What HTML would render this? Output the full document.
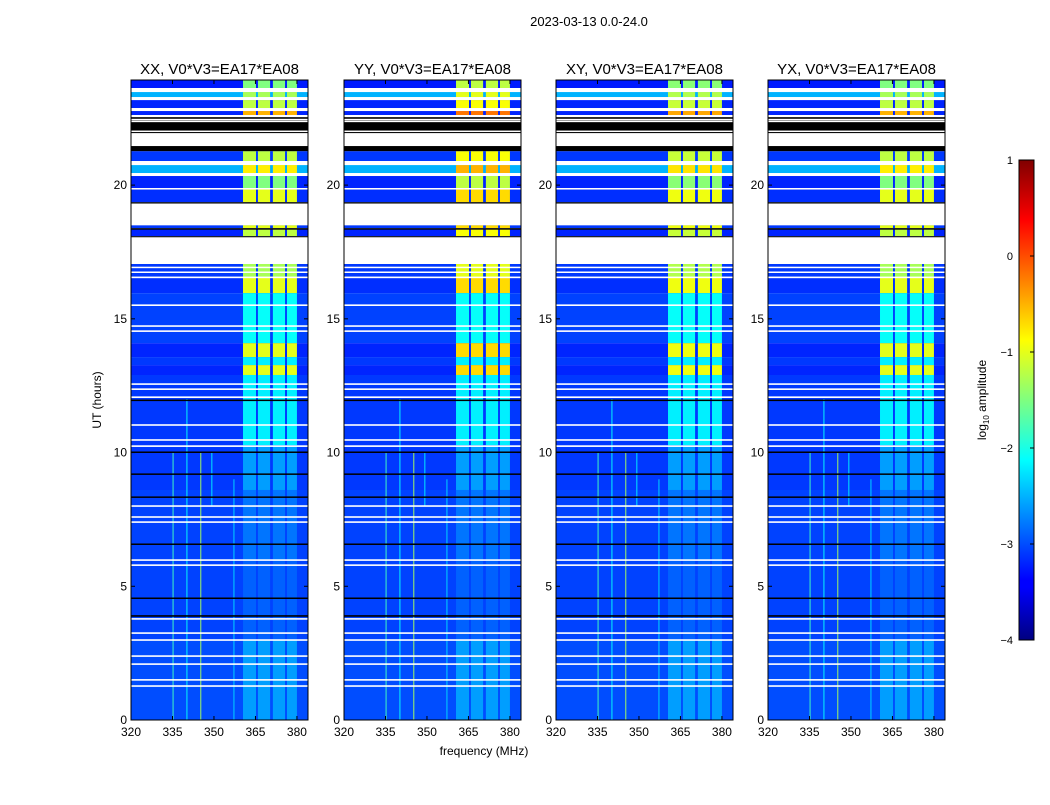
<!DOCTYPE html>
<html><head><meta charset="utf-8"><style>
body{margin:0;background:#fff;}
svg text{font-family:"Liberation Sans",sans-serif;}
</style></head><body>
<svg id="fig" width="1050" height="800" xmlns="http://www.w3.org/2000/svg">
<defs><linearGradient id="jetg" x1="0" y1="1" x2="0" y2="0">
<stop offset="0" stop-color="#000080"/><stop offset="0.11" stop-color="#0000ff"/><stop offset="0.125" stop-color="#0000ff"/><stop offset="0.375" stop-color="#00ffff"/><stop offset="0.625" stop-color="#ffff00"/><stop offset="0.875" stop-color="#ff0000"/><stop offset="1" stop-color="#800000"/></linearGradient></defs>
<text x="589" y="26" font-size="13" text-anchor="middle">2023-03-13 0.0-24.0</text>
<text x="484" y="755" font-size="12" text-anchor="middle">frequency (MHz)</text>
<text transform="translate(101,400) rotate(-90)" font-size="12" text-anchor="middle">UT (hours)</text>
<g id="panels"></g>
<g id="cbar"></g>
</svg>
<script>
const panelTitles=["XX, V0*V3=EA17*EA08","YY, V0*V3=EA17*EA08","XY, V0*V3=EA17*EA08","YX, V0*V3=EA17*EA08"];
const panelBandOffset=[0,0.3,0.05,0];
// data segments: [startHour,endHour,bgLog,bandLog]
const segStart=[23.63,23.29,22.88,22.62,20.90,20.45,19.89,19.36,18.39,18.09,16.56,15.96,14.09,13.57,13.27,12.90,10.28,8.6,5.98,2.99,0];
const segEnd  =[23.93,23.48,23.18,22.77,21.27,20.75,20.34,19.85,18.50,18.35,17.05,16.56,15.96,14.09,13.57,13.27,12.90,10.28,8.6,5.98,2.99];
const segBg   =[-3.25,-2.5,-3.2,-3.2,-3.1,-2.5,-3.2,-3.15,-3.1,-3.2,-3.1,-3.15,-3.05,-3.2,-3.1,-3.2,-3.1,-3.1,-3.05,-3.05,-3.0];
const segBand =[-1.5,-1.3,-1.2,-0.5,-1.2,-0.8,-1.5,-1.0,-1.0,-1.2,-1.3,-1.0,-2.1,-1.0,-2.2,-1.0,-2.2,-2.6,-2.8,-2.9,-2.6];
// band blocks in MHz
const bandLo=[360.5,365.9,371.3,376.4];
const bandHi=[365.2,370.3,375.7,380.0];
// flagged rows: start,end, type 0 white / 1 black
const flagStart=[23.48,23.18,22.77,22.54,21.94,22.45,22.38,22.0,21.46,21.27,20.75,20.34,19.85,19.31,18.50,18.35,18.05,17.05,16.90,16.72,16.52,15.48,14.70,14.51,12.53,12.34,12.04,11.93,11.00,10.44,10.21,9.99,9.17,8.31,7.97,7.56,7.37,6.55,5.95,5.76,4.53,3.86,3.75,3.22,2.96,2.36,2.06,1.47,1.24];
const flagEnd  =[23.63,23.29,22.88,22.62,22.54,22.48,22.41,22.04,21.94,21.46,20.90,20.45,19.89,19.36,19.31,18.39,18.09,18.05,16.95,16.77,16.58,15.54,14.76,14.57,12.59,12.40,12.10,11.98,11.06,10.50,10.27,10.04,9.22,8.36,8.03,7.62,7.43,6.60,6.01,5.82,4.58,3.92,3.81,3.28,3.02,2.42,2.12,1.53,1.30];
const flagType =[0,0,0,0,1,0,0,0,0,1,0,0,0,1,0,1,1,0,0,0,0,0,0,0,0,0,0,1,0,0,0,1,1,1,0,0,0,1,0,0,1,1,0,0,0,0,0,0,0];
// RFI vertical lines
const rfiFreq=[335,340,345,349,357];
const rfiStart=[0,0,0,8,0];
const rfiEnd=[10,12,10,10,9];
const rfiLevel=[-1.8,-2.1,-1.3,-2.2,-2.3];
const yTicks=[0,5,10,15,20];
const xTicks=[320,335,350,365,380];
const cbTicks=[1,0,-1,-2,-3,-4];

const NS="http://www.w3.org/2000/svg";
const panelX=[131,344,556,768], PW=177, PT=80, PB=720;
const F0=320,F1=384,H0=0,H1=23.93;
function jet(v){let t=(v+4)/5;t=Math.max(0,Math.min(1,t));
 const c=x=>Math.round(255*Math.max(0,Math.min(1,x)));
 return `rgb(${c(1.5-Math.abs(4*t-3))},${c(1.5-Math.abs(4*t-2))},${c(1.5-Math.abs(4*t-1))})`;}
function el(tag,attrs,parent){const e=document.createElementNS(NS,tag);for(const k in attrs)e.setAttribute(k,attrs[k]);parent.appendChild(e);return e;}
const root=document.getElementById('panels');
panelX.forEach((px,p)=>{
 const xs=f=>px+(f-F0)/(F1-F0)*PW;
 const ys=h=>PB-(h-H0)/(H1-H0)*(PB-PT);
 const g=el('g',{},root);
 
 
 el('rect',{x:px,y:PT,width:PW,height:PB-PT,fill:'#fff'},g);
 for(let i=0;i<segStart.length;i++){
  const y1=ys(segEnd[i]),y2=ys(segStart[i]);
  const r=el('rect',{x:px,y:y1,width:PW,height:y2-y1,fill:jet(segBg[i])},g);
  
  
  for(let b=0;b<bandLo.length;b++){
   const br=el('rect',{x:xs(bandLo[b]),y:y1,width:xs(bandHi[b])-xs(bandLo[b]),height:y2-y1,fill:jet(segBand[i]+(segBand[i]>-1.6?panelBandOffset[p]:0))},g);
   
   
  }
 }
 for(let i=0;i<rfiFreq.length;i++){
  const l=el('rect',{x:xs(rfiFreq[i]),y:ys(rfiEnd[i]),width:1.2,height:ys(rfiStart[i])-ys(rfiEnd[i]),fill:jet(rfiLevel[i]),opacity:0.8},g);
  
  
 }
 for(let i=0;i<flagStart.length;i++){
  const y1=ys(flagEnd[i]),y2=ys(flagStart[i]);
  const f=el('rect',{x:px,y:y1,width:PW,height:Math.max(1.5,y2-y1),fill:flagType[i]?'#000':'#fff'},g);
  
  
 }
 el('rect',{x:px,y:PT,width:PW,height:PB-PT,fill:'none',stroke:'#000','stroke-width':1},g);
 const t=el('text',{x:px+PW/2,y:74,'font-size':15,'text-anchor':'middle'},g);t.textContent=panelTitles[p];
 
 
 yTicks.forEach(v=>{const y=ys(v);
  el('line',{x1:px,x2:px+4,y1:y,y2:y,stroke:'#000'},g);el('line',{x1:px+PW-4,x2:px+PW,y1:y,y2:y,stroke:'#000'},g);
  const tt=el('text',{x:px-4,y:y+4,'font-size':12,'text-anchor':'end'},g);tt.textContent=v;
  
  });
 xTicks.forEach(v=>{const x=xs(v);
  el('line',{x1:x,x2:x,y1:PB,y2:PB-4,stroke:'#000'},g);el('line',{x1:x,x2:x,y1:PT,y2:PT+4,stroke:'#000'},g);
  const tt=el('text',{x:x,y:PB+16,'font-size':12,'text-anchor':'middle'},g);tt.textContent=v;
  
  });
});
const cb=document.getElementById('cbar');
const CX=1019,CW=15,CT=160,CB=640;
el('rect',{x:CX,y:CT,width:CW,height:CB-CT,fill:'url(#jetg)',stroke:'#000'},cb);
cbTicks.forEach(v=>{const y=CB-(v+4)/5*(CB-CT);
 el('line',{x1:CX+CW-4,x2:CX+CW,y1:y,y2:y,stroke:'#000'},cb);
 const t=el('text',{x:1013,y:y+4,'font-size':11,'text-anchor':'end'},cb);t.textContent=(v<0?'\u2212'+(-v):v);
 
 });
const lab=el('text',{transform:'translate(986,400) rotate(-90)','font-size':12,'text-anchor':'middle'},cb);
lab.innerHTML='log<tspan font-size="8" dy="3">10</tspan><tspan dy="-3"> amplitude</tspan>';


</script>
</body></html>
